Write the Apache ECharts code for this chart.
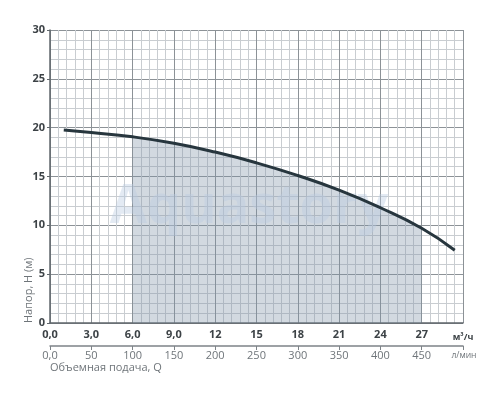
<!DOCTYPE html>
<html>
<head>
<meta charset="utf-8">
<script src="https://cdn.jsdelivr.net/npm/echarts@6/dist/echarts.min.js"></script>
<style>
  html, body { margin: 0; padding: 0; background: #fff; }
  #chart { width: 500px; height: 400px; }
</style>
</head>
<body>
<div id="chart"></div>
<script>
// pump curve
var flowM3h = [1.0, 3, 6, 9, 12, 15, 18, 21, 24, 27, 29.4];
var headM = [19.75, 19.5, 19.06, 18.4, 17.5, 16.4, 15.1, 13.6, 11.8, 9.7, 7.45];
var workStart = 6;
var workEnd = 27;
var yTicks = [0, 5, 10, 15, 20, 25, 30];

function makePoints(from, to) {
    var pts = [];
    for (var i = 0; i < flowM3h.length; i++) {
        if (flowM3h[i] >= from && flowM3h[i] <= to) pts.push([flowM3h[i], headM[i]]);
    }
    return pts;
}

var chart = echarts.init(document.getElementById('chart'));
var font = '"Open Sans", "DejaVu Sans", sans-serif';
var major = '#8c9297';
var minor = '#c9cdd1';

chart.setOption({
    animation: false,
    grid: { left: 50, right: 37, top: 30, bottom: 77 },
    xAxis: [{
        type: 'value', min: 0, max: 30, interval: 3,
        axisLine: { lineStyle: { color: '#5f666b', width: 1.5 } },
        axisTick: { show: false },
        axisLabel: {
            margin: 6, color: '#3c4246', fontWeight: 'bold', fontFamily: font, fontSize: 11,
            formatter: function (v) {
                if (v === 30) return '{u|м³/ч}';
                return v < 10 ? v.toFixed(1).replace('.', ',') : String(v);
            },
            rich: { u: { fontSize: 9, fontWeight: 'bold', color: '#3c4246', fontFamily: font, padding: [4, 0, 0, 0] } }
        },
        splitLine: { show: true, lineStyle: { color: major, width: 1 } },
        minorTick: { show: false, splitNumber: 5 },
        minorSplitLine: { show: true, lineStyle: { color: minor, width: 1 } }
    }, {
        type: 'value', position: 'bottom', offset: 23, min: 0, max: 500, interval: 50,
        axisLine: { show: true, lineStyle: { color: '#7d8388', width: 1.5 } },
        axisTick: { show: true, length: 4, lineStyle: { color: '#7d8388' } },
        axisLabel: {
            margin: 4, color: '#6f757a', fontFamily: font, fontSize: 11,
            formatter: function (v) {
                if (v === 500) return '{u|л/мин}';
                return v === 0 ? '0,0' : String(v);
            },
            rich: { u: { fontSize: 8.5, color: '#6f757a', fontFamily: font, padding: [1, 0, 0, 2] } }
        },
        splitLine: { show: false }
    }],
    yAxis: {
        type: 'value', min: yTicks[0], max: yTicks[yTicks.length - 1], interval: 5,
        axisLine: { show: true, lineStyle: { color: '#5f666b', width: 1.5 } },
        axisTick: { show: true, length: 3, lineStyle: { color: '#5f666b' } },
        axisLabel: { margin: 5, color: '#3c4246', fontWeight: 'bold', fontFamily: font, fontSize: 11 },
        splitLine: { show: true, lineStyle: { color: major, width: 1 } },
        minorTick: { show: false, splitNumber: 5 },
        minorSplitLine: { show: true, lineStyle: { color: minor, width: 1 } }
    },
    graphic: [{
        type: 'text', left: 50, top: 362,
        style: { text: 'Объемная подача, Q', fill: '#6f757a', font: '11px ' + font }
    }, {
        type: 'text', x: 29, y: 323, rotation: Math.PI / 2,
        style: { text: 'Напор, H (м)', fill: '#6f757a', font: '11px ' + font, textAlign: 'left', textVerticalAlign: 'middle' }
    }, {
        type: 'text', x: 249, y: 208, z: 2,
        style: { text: 'Aquastory', fill: 'rgba(185,202,224,0.4)', font: 'bold 54px ' + font, textAlign: 'center', textVerticalAlign: 'middle' }
    }],
    series: [{
        type: 'line', xAxisIndex: 0, smooth: true, symbol: 'none',
        data: makePoints(workStart, workEnd),
        lineStyle: { width: 0 },
        areaStyle: { color: 'rgba(128,146,168,0.5)', origin: 'start' },
        z: 1
    }, {
        type: 'line', xAxisIndex: 0, smooth: true, symbol: 'none',
        data: makePoints(0, 30),
        lineStyle: { color: '#27363e', width: 3 },
        z: 5
    }]
});
</script>
</body>
</html>
